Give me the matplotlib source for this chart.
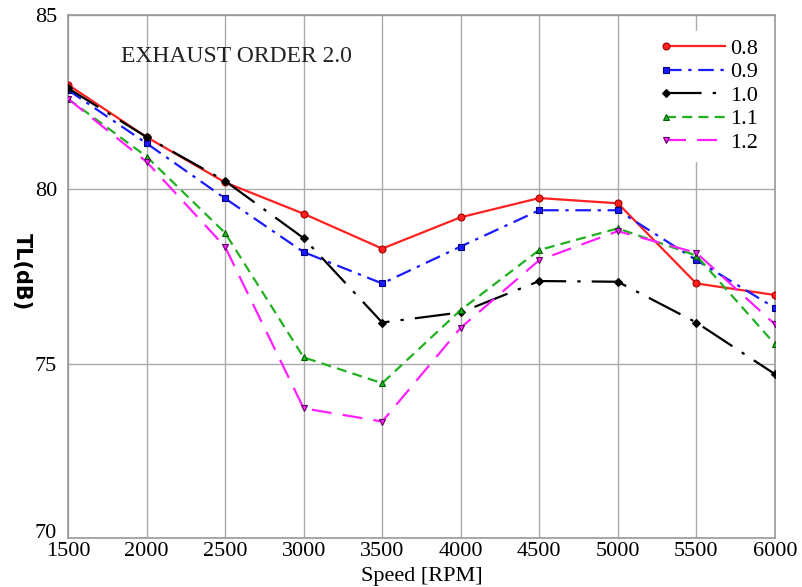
import matplotlib
matplotlib.use("Agg")
import matplotlib.pyplot as plt
import matplotlib.transforms as mtransforms
from matplotlib.legend_handler import HandlerLine2D

speed = [1500, 2000, 2500, 3000, 3500, 4000, 4500, 5000, 5500, 6000]
tl_08 = [83.0, 81.5, 80.2, 79.3, 78.3, 79.2, 79.75, 79.6, 77.3, 76.97]
tl_09 = [82.85, 81.32, 79.74, 78.2, 77.3, 78.36, 79.4, 79.4, 77.97, 76.6]
tl_10 = [82.9, 81.5, 80.24, 78.6, 76.18, 76.47, 77.37, 77.35, 76.18, 74.7]
tl_11 = [82.6, 80.94, 78.75, 75.18, 74.44, 76.54, 78.26, 78.88, 78.1, 75.56]
tl_12 = [82.6, 80.79, 78.35, 73.72, 73.34, 76.03, 77.97, 78.8, 78.18, 76.13]

plt.rcParams.update({"font.family": "serif",
                     "font.serif": ["Liberation Serif", "DejaVu Serif"]})


class LeftMarker(HandlerLine2D):
    # marker sits at the left end of the legend line, like the original
    def create_artists(self, *args, **kwargs):
        arts = super().create_artists(*args, **kwargs)
        arts[0].set_markevery([0])
        return arts


fig = plt.figure(figsize=(8.03, 5.87), dpi=100)
ax = fig.add_axes([0.0847, 0.0835, 0.8803, 0.8909])

series = [
    (tl_08, "0.8", "#ff2020", "o", "#a00000", "-"),
    (tl_09, "0.9", "#1a1aff", "s", "#000080", (0, (7, 3, 1.5, 3))),
    (tl_10, "1.0", "black", "D", "black", (0, (16, 5, 1.5, 5))),
    (tl_11, "1.1", "#20b020", "^", "#006000", (0, (4.5, 2.8))),
    (tl_12, "1.2", "#ff20ff", "v", "#600060", (0, (9, 5))),
]
for y, lab, col, mk, edge, ls in series:
    ax.plot(speed, y, color=col, linestyle=ls, linewidth=1.6, marker=mk,
            markersize=5 if mk != "D" else 4, markerfacecolor=col,
            markeredgecolor=edge, markeredgewidth=0.8, label=lab, zorder=3)

ax.set_xlim(1500, 6000)
ax.set_ylim(70, 85)
ax.set_xticks(speed)
ax.set_yticks([70, 75, 80, 85])
ax.grid(True, color="#aaaaaa", linewidth=1.0, zorder=0)
for s in ax.spines.values():
    s.set_color("#999999")
    s.set_linewidth(1.2)
ax.tick_params(length=0, labelsize=16, pad=3)
ax.tick_params(axis="y", pad=8)
# the "70" label sits a bit above the corner in the original
lab70 = ax.get_yticklabels()[0]
lab70.set_transform(lab70.get_transform() +
                    mtransforms.ScaledTranslation(0, 5 / 72, fig.dpi_scale_trans))
ax.set_xlabel("Speed [RPM]", fontsize=16, labelpad=4)
ax.set_ylabel("TL(dB)", fontsize=15, fontweight="bold", family="DejaVu Sans",
              rotation=-90, va="center", ha="center")
ax.yaxis.set_label_coords(-0.065, 0.509)
ax.text(0.075, 0.92, "EXHAUST ORDER 2.0", transform=ax.transAxes,
        fontsize=17, va="center", ha="left", color="#222222")

leg = ax.legend(loc="upper right", bbox_to_anchor=(1.0, 0.987), frameon=True,
                fontsize=16, handlelength=2.65, handletextpad=0.25,
                labelspacing=0.13, borderaxespad=0.4, borderpad=0.35,
                handler_map={plt.Line2D: LeftMarker()})
leg.get_frame().set_edgecolor("white")
leg.get_frame().set_facecolor("white")
leg.get_frame().set_alpha(1)

fig.savefig("out.png", dpi=100)
